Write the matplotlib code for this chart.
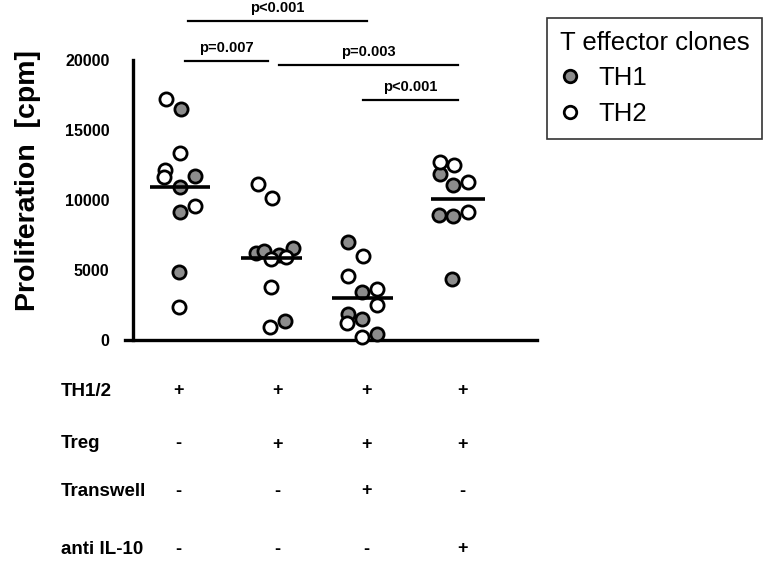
import matplotlib
matplotlib.use("Agg")
import matplotlib.pyplot as plt
import matplotlib.transforms as mtransforms
from matplotlib.lines import Line2D

plt.rcParams['font.family'] = ['Liberation Sans', 'DejaVu Sans']

###Data (cpm values, x jitter in group units)
groups = [1, 2, 3, 4]

th1_vals = [[16500, 11710, 10930, 9140, 4860],
            [6210, 6360, 6070, 6570, 1360],
            [7000, 3430, 1860, 1500, 430],
            [11860, 11070, 8930, 8860, 4330]]
th1_jit = [[0.01, 0.165, 0.0, 0.0, -0.01],
           [-0.165, -0.077, 0.088, 0.242, 0.154],
           [-0.154, 0.0, -0.154, 0.0, 0.165],
           [-0.143, 0.0, -0.154, 0.0, -0.011]]

th2_vals = [[17210, 13360, 12140, 11640, 9570, 2360],
            [11140, 10140, 5790, 5930, 3790, 930],
            [6000, 4570, 3640, 2500, 1210, 240],
            [12740, 12500, 11260, 9140]]
th2_jit = [[-0.154, 0.0, -0.165, -0.176, 0.165, -0.01],
           [-0.142, 0.011, 0.0, 0.165, 0.0, -0.011],
           [0.011, -0.154, 0.165, 0.165, -0.165, 0.0],
           [-0.143, 0.011, 0.165, 0.165]]

medians = [10930, 5860, 2980, 10070]
med_left = [0.33, 0.33, 0.33, 0.24]
med_right = [0.33, 0.34, 0.34, 0.35]

###Significance brackets: (x start, x end, y, label)
sig_x0 = [1.09, 1.055, 2.09, 3.01]
sig_x1 = [3.055, 1.97, 4.055, 4.055]
sig_y = [22800, 19930, 19640, 17140]
sig_labels = ["p<0.001", "p=0.007", "p=0.003", "p<0.001"]

###Condition table
row_names = ["TH1/2", "Treg", "Transwell", "anti IL-10"]
row_signs = [["+", "+", "+", "+"],
             ["-", "+", "+", "+"],
             ["-", "-", "+", "-"],
             ["-", "-", "-", "+"]]
sign_x = [0.98, 2.07, 3.05, 4.1]

W, H = 770, 562
fig = plt.figure(figsize=(W / 100, H / 100), dpi=100)
ax = fig.add_axes([125 / W, (H - 340) / H, (537 - 125) / W, 280 / H])

x_lo = (125 - 180) / 91 + 1
x_hi = (537 - 180) / 91 + 1
ax.set_xlim(x_lo, x_hi)
ax.set_ylim(0, 20000)

for i, g in enumerate(groups):
    ax.scatter([g + j for j in th1_jit[i]], th1_vals[i], s=90, c='#8c8c8c',
               edgecolors='black', linewidths=2.0, zorder=3, clip_on=False)
    ax.scatter([g + j for j in th2_jit[i]], th2_vals[i], s=90, c='white',
               edgecolors='black', linewidths=2.0, zorder=3, clip_on=False)
    ax.plot([g - med_left[i], g + med_right[i]], [medians[i]] * 2,
            color='black', lw=2.6, zorder=4, solid_capstyle='butt')

###Spines
for s in ['top', 'right']:
    ax.spines[s].set_visible(False)
ax.spines['left'].set_position(('data', (133 - 180) / 91 + 1))
ax.spines['left'].set_linewidth(2.4)
ax.spines['bottom'].set_linewidth(2.4)
ax.set_xticks([])
ax.set_yticks([0, 5000, 10000, 15000, 20000])
ax.tick_params(axis='y', length=0, pad=17)
for t in ax.get_yticklabels():
    t.set_fontweight('bold')
    t.set_fontsize(11.5)

fig.text(28 / W, 1 - 180 / H, "Proliferation  [cpm]", rotation=90,
         fontsize=20.5, fontweight='bold', ha='center', va='center')

###Significance bars
for x0, x1, y, lab in zip(sig_x0, sig_x1, sig_y, sig_labels):
    ax.plot([x0, x1], [y, y], color='black', lw=1.6, clip_on=False)
    ax.text((x0 + x1) / 2, y + 400, lab, ha='center', va='bottom',
            fontsize=10.5, fontweight='bold')

###Condition rows below the plot
trans = mtransforms.blended_transform_factory(ax.transData, fig.transFigure)
row_y = [391, 444, 491, 549]
for r, (name, signs) in enumerate(zip(row_names, row_signs)):
    fy = 1 - row_y[r] / H
    fig.text(61 / W, fy, name, fontsize=13.5, fontweight='bold', ha='left', va='center')
    for sx, sgn in zip(sign_x, signs):
        ax.text(sx, fy, sgn, transform=trans, fontsize=13, fontweight='bold',
                ha='center', va='center')

###Legend
handles = [Line2D([], [], ls='none', marker='o', ms=9, mfc='#8c8c8c', mec='black', mew=2.0),
           Line2D([], [], ls='none', marker='o', ms=9, mfc='white', mec='black', mew=2.0)]
leg = fig.legend(handles, ["TH1", "TH2"], title="T effector clones",
                 loc='upper left', bbox_to_anchor=(547 / W, 1 - 18 / H),
                 fontsize=18.5, title_fontsize=18.5, frameon=True, fancybox=False,
                 edgecolor='black', handlelength=0.8, handletextpad=0.7,
                 labelspacing=0.45, borderpad=0.5, borderaxespad=0, alignment='left')
leg.get_frame().set_linewidth(1.2)

fig.savefig("out.png", dpi=100)
